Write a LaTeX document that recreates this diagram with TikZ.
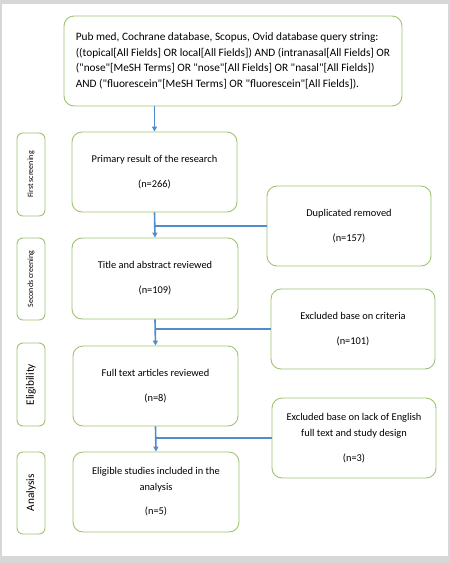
\documentclass[tikz,border=0pt]{standalone}
\usepackage{fontspec}
\setmainfont{Carlito}
\usepackage{tikz}
\usetikzlibrary{arrows.meta}
\definecolor{boxgreen}{RGB}{160,195,115}
\definecolor{flowblue}{RGB}{80,140,205}
\definecolor{framegray}{RGB}{215,215,215}
\newcommand{\qd}{\textquotedbl}
\begin{document}
\begin{tikzpicture}[x=1pt,y=-1pt]
			\tikzstyle{stagebox}=[draw=boxgreen,line width=0.9pt,rounded corners=10pt,fill=white,inner sep=0pt,align=center,font=\fontsize{10.4}{16}\selectfont]
			\tikzstyle{sidebox}=[draw=boxgreen,line width=0.9pt,rounded corners=6pt,fill=white,inner sep=0pt,minimum width=28pt]
			\tikzstyle{flow}=[draw=flowblue,line width=1.6pt]
			\tikzstyle{flowarrow}=[flow,-{Triangle[length=5pt,width=5pt]}]
			\fill [framegray] (0,0) rectangle (450,563);
			\fill [white] (2,4) rectangle (448,556);
			\useasboundingbox (0,0) rectangle (450,563);
			\node [stagebox,minimum width=338pt,minimum height=90pt,align=left,font=\fontsize{11.3}{15.6}\selectfont] (query) at (233,61) {Pub med, Cochrane database, Scopus, Ovid database query string:\\((topical[All Fields] OR local[All Fields]) AND (intranasal[All Fields] OR\\(\qd nose\qd[MeSH Terms] OR \qd nose\qd[All Fields] OR \qd nasal\qd[All Fields])\\AND (\qd fluorescein\qd[MeSH Terms] OR \qd fluorescein\qd[All Fields]).};
			\node [stagebox,minimum width=165pt,minimum height=80pt] (primary) at (154.5,172) {Primary result of the research\\[9pt](n=266)};
			\node [stagebox,minimum width=164pt,minimum height=80pt] (dup) at (349,226) {Duplicated removed\\[9pt](n=157)};
			\node [stagebox,minimum width=166pt,minimum height=81pt] (title) at (155,278.5) {Title and abstract reviewed\\[9pt](n=109)};
			\node [stagebox,minimum width=164pt,minimum height=80pt] (crit) at (353,329) {Excluded base on criteria\\[9pt](n=101)};
			\node [stagebox,minimum width=165pt,minimum height=80pt] (full) at (155.5,386) {Full text articles reviewed\\[9pt](n=8)};
			\node [stagebox,minimum width=164pt,minimum height=80pt] (eng) at (354,438) {Excluded base on lack of English\\full text and study design\\[9pt](n=3)};
			\node [stagebox,minimum width=166pt,minimum height=80pt] (elig) at (156,492) {Eligible studies included in the\\analysis\\[8pt](n=5)};
			\node [sidebox,minimum height=83pt] (first) at (31,174.5) {};
			\node [rotate=90,font=\fontsize{8}{9}\selectfont] (firstlabel) at (first.center) {First screening};
			\node [sidebox,minimum height=82pt] (second) at (31,279) {};
			\node [rotate=90,font=\fontsize{8}{9}\selectfont] (secondlabel) at (second.center) {Seconds creening};
			\node [sidebox,minimum height=83pt] (eligib) at (31,384.5) {};
			\node [rotate=90,font=\fontsize{11.3}{13}\selectfont] (eligiblabel) at (eligib.center) {Eligibility};
			\node [sidebox,minimum height=82pt] (analysis) at (31,493) {};
			\node [rotate=90,font=\fontsize{11.3}{13}\selectfont] (analysislabel) at (analysis.center) {Analysis};
			\draw [flowarrow] (primary.north |- query.south) -- (primary.north);
			\draw [flowarrow] (primary.south) -- (title.north);
			\draw [flow] (dup.west) -- (dup.west -| primary.south);
			\draw [flowarrow] (title.south) -- (full.north);
			\draw [flow] (crit.west) -- (crit.west -| title.south);
			\draw [flowarrow] (full.south) -- (elig.north);
			\draw [flow] (eng.west) -- (eng.west -| full.south);
\end{tikzpicture}
\end{document}
